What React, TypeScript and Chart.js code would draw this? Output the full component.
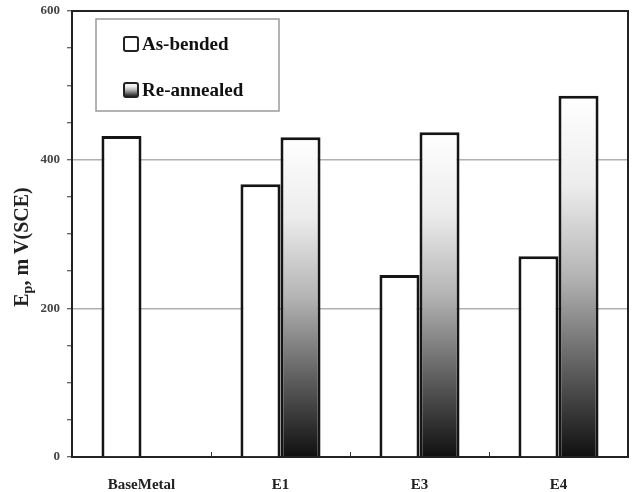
import React, { useEffect, useRef } from "react";
import { Chart, registerables } from "chart.js";

Chart.register(...registerables);

const categories = ["BaseMetal", "E1", "E3", "E4"];
const asBended = [432, 367, 245, 270];
const reAnnealed: (number | null)[] = [null, 430, 437, 486];
const yMin = 0;
const yMax = 600;
const yStep = 50;
const yLabelStep = 200;
const legendLabels = ["As-bended", "Re-annealed"];
const yTitleMain = "E";
const yTitleSub = "p";
const yTitleRest = ", m V(SCE)";

const SERIF = "'Liberation Serif', 'Times New Roman', serif";

function makeGradient(c: CanvasRenderingContext2D, top: number, bottom: number) {
  const g = c.createLinearGradient(0, top, 0, bottom);
  g.addColorStop(0, "#ffffff");
  g.addColorStop(0.25, "#ececec");
  g.addColorStop(0.5, "#b4b4b4");
  g.addColorStop(0.75, "#606060");
  g.addColorStop(1, "#101010");
  return g;
}

const decorPlugin = {
  id: "decor",
  afterDraw(chart: any) {
    const c: CanvasRenderingContext2D = chart.ctx;
    const { left, right, top, bottom } = chart.chartArea;
    c.save();
    // top & right frame
    c.strokeStyle = "#222";
    c.lineWidth = 2;
    c.beginPath();
    c.moveTo(left, top);
    c.lineTo(right, top);
    c.lineTo(right, bottom);
    c.stroke();
    // x boundary ticks (inward)
    const n = categories.length;
    const w = (right - left) / n;
    c.lineWidth = 1;
    c.strokeStyle = "#333";
    for (let i = 1; i < n; i++) {
      const x = Math.round(left + w * i) + 0.5;
      c.beginPath();
      c.moveTo(x, bottom);
      c.lineTo(x, bottom - 5);
      c.stroke();
    }
    // legend box
    const lx = 96, ly = 19, lw = 183, lh = 92;
    c.fillStyle = "#ffffff";
    c.fillRect(lx, ly, lw, lh);
    c.strokeStyle = "#9a9a9a";
    c.lineWidth = 1.5;
    c.strokeRect(lx, ly, lw, lh);
    const entries = [44, 90];
    c.font = `bold 19px ${SERIF}`;
    c.textBaseline = "middle";
    c.textAlign = "left";
    entries.forEach((cy, i) => {
      const mx = 124, ms = 14;
      const my = cy - ms / 2;
      if (i === 0) {
        c.fillStyle = "#ffffff";
      } else {
        c.fillStyle = makeGradient(c, my, my + ms);
      }
      c.beginPath();
      (c as any).roundRect ? (c as any).roundRect(mx, my, ms, ms, 2) : c.rect(mx, my, ms, ms);
      c.fill();
      c.strokeStyle = "#222";
      c.lineWidth = 2;
      c.stroke();
      c.fillStyle = "#111";
      c.fillText(legendLabels[i], 142, cy + 1);
    });
    // y axis title
    c.translate(22, 247);
    c.rotate(-Math.PI / 2);
    const bigFont = `bold 20px ${SERIF}`;
    const smallFont = `bold 14px ${SERIF}`;
    c.font = bigFont;
    const wMain = c.measureText(yTitleMain).width;
    const wRest = c.measureText(yTitleRest).width;
    c.font = smallFont;
    const wSub = c.measureText(yTitleSub).width;
    const total = wMain + wSub + wRest;
    let x = -total / 2;
    c.fillStyle = "#222";
    c.textBaseline = "alphabetic";
    c.font = bigFont;
    c.fillText(yTitleMain, x, 6);
    x += wMain;
    c.font = smallFont;
    c.fillText(yTitleSub, x, 10);
    x += wSub;
    c.font = bigFont;
    c.fillText(yTitleRest, x, 6);
    c.restore();
  },
};

export default function App() {
  const ref = useRef<HTMLCanvasElement | null>(null);
  useEffect(() => {
    document.body.style.margin = "0";
    const canvas = ref.current!;
    const chart = new Chart(canvas, {
      type: "bar",
      data: {
        labels: categories,
        datasets: [
          {
            label: legendLabels[0],
            data: asBended,
            backgroundColor: "#ffffff",
            borderColor: "#151515",
            borderWidth: 3,
          },
          {
            label: legendLabels[1],
            data: reAnnealed,
            backgroundColor: (ctx: any) => {
              const chart = ctx.chart;
              const ys = chart.scales && chart.scales.y;
              if (!ys || ctx.type !== "data" || ctx.raw == null) return "#777";
              const t = ys.getPixelForValue(ctx.raw);
              const b = ys.getPixelForValue(0);
              if (!isFinite(t) || !isFinite(b)) return "#777";
              return makeGradient(chart.ctx, t, b);
            },
            borderColor: "#151515",
            borderWidth: 3,
          },
        ],
      },
      options: {
        responsive: false,
        animation: false,
        layout: { padding: { left: 0, right: 6, top: 11, bottom: 0 } },
        plugins: { legend: { display: false }, tooltip: { enabled: false } },
        datasets: { bar: { categoryPercentage: 0.576, barPercentage: 1.0 } },
        scales: {
          x: {
            grid: { display: false },
            border: { display: true, color: "#222", width: 2 },
            ticks: {
              color: "#222",
              padding: 11,
              font: { family: SERIF, size: 15, weight: "bold" },
            },
            afterFit: (s: any) => {
              s.height = 35;
            },
          },
          y: {
            min: yMin,
            max: yMax,
            border: { display: true, color: "#222", width: 2 },
            grid: {
              color: (c: any) =>
                c.tick && c.tick.value > yMin && c.tick.value < yMax && c.tick.value % yLabelStep === 0
                  ? "#b0b0b0"
                  : "rgba(0,0,0,0)",
              lineWidth: 1.5,
              tickColor: "#333",
              tickWidth: 1,
              tickLength: 5,
            },
            ticks: {
              stepSize: yStep,
              autoSkip: false,
              padding: 7,
              color: "#444",
              font: { family: SERIF, size: 13, weight: "bold" },
              callback: (v: any) => (Number(v) % yLabelStep === 0 ? String(v) : ""),
            },
            afterFit: (s: any) => {
              s.width = 72;
              s.paddingTop = 0;
              s.paddingBottom = 0;
            },
          },
        },
      },
      plugins: [decorPlugin],
    } as any);
    return () => chart.destroy();
  }, []);
  return (
    <div style={{ width: 634, height: 492 }}>
      <canvas ref={ref} width={634} height={492} style={{ display: "block", width: 634, height: 492 }} />
    </div>
  );
}
